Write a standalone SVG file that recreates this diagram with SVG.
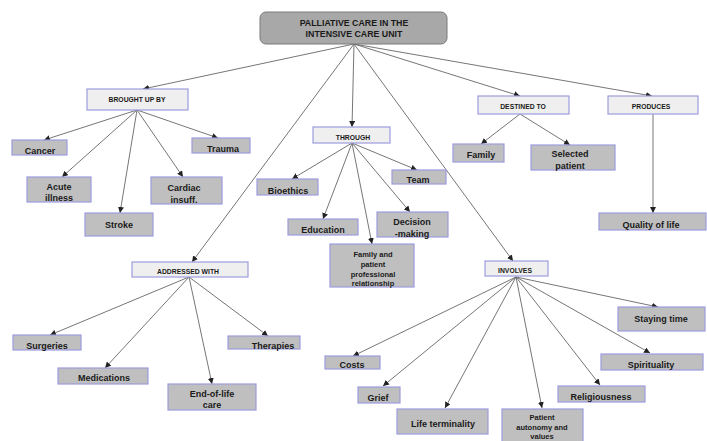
<svg xmlns="http://www.w3.org/2000/svg" width="707" height="441" viewBox="0 0 707 441">
<defs>
<marker id="ah" viewBox="0 0 10 10" refX="10" refY="5" markerWidth="6" markerHeight="6" markerUnits="userSpaceOnUse" orient="auto">
<path d="M0,0 L10,5 L0,10 z" fill="#222"/>
</marker>
<style>
.e{stroke:#666;stroke-width:0.9;fill:none;marker-end:url(#ah)}
.rel{fill:#efefef;stroke:#9c9ce0;stroke-width:1.2}
.leaf{fill:#bfbfbf;stroke:#9c9ce0;stroke-width:1.2}
.title{fill:#a8a8a8;stroke:#7a7a7a;stroke-width:1}
text{font-family:"Liberation Sans",Arial,sans-serif;font-weight:bold;fill:#1a1a1a;text-anchor:middle}
.t{font-size:8.8px}
.r{font-size:6.8px}
.l{font-size:9px}
.s{font-size:7.5px}
</style>
</defs>
<rect width="707" height="441" fill="#ffffff"/>
<g id="connectors">
<line class="e" x1="354" y1="44" x2="143" y2="89"/>
<line class="e" x1="354" y1="44" x2="192" y2="262"/>
<line class="e" x1="354" y1="44" x2="352" y2="127"/>
<line class="e" x1="354" y1="44" x2="513" y2="261"/>
<line class="e" x1="354" y1="44" x2="520" y2="96"/>
<line class="e" x1="354" y1="44" x2="652" y2="96"/>
<line class="e" x1="137" y1="110" x2="44" y2="140"/>
<line class="e" x1="137" y1="110" x2="62" y2="177"/>
<line class="e" x1="137" y1="110" x2="120" y2="213"/>
<line class="e" x1="137" y1="110" x2="183" y2="177"/>
<line class="e" x1="137" y1="110" x2="218" y2="138"/>
<line class="e" x1="352" y1="143" x2="292" y2="179"/>
<line class="e" x1="352" y1="143" x2="323" y2="219"/>
<line class="e" x1="352" y1="143" x2="372" y2="244"/>
<line class="e" x1="352" y1="143" x2="410" y2="212"/>
<line class="e" x1="352" y1="143" x2="417" y2="170"/>
<line class="e" x1="520" y1="114" x2="481" y2="144"/>
<line class="e" x1="520" y1="114" x2="570" y2="145"/>
<line class="e" x1="653" y1="114" x2="653" y2="213"/>
<line class="e" x1="189" y1="277" x2="50" y2="335"/>
<line class="e" x1="189" y1="277" x2="105" y2="368"/>
<line class="e" x1="189" y1="277" x2="212" y2="384"/>
<line class="e" x1="189" y1="277" x2="268" y2="336"/>
<line class="e" x1="516" y1="277" x2="353" y2="356"/>
<line class="e" x1="516" y1="277" x2="383" y2="386"/>
<line class="e" x1="516" y1="277" x2="445" y2="408"/>
<line class="e" x1="516" y1="277" x2="542" y2="408"/>
<line class="e" x1="516" y1="277" x2="600" y2="385"/>
<line class="e" x1="516" y1="277" x2="650" y2="353"/>
<line class="e" x1="516" y1="277" x2="658" y2="307"/>
</g>
<g id="title">
<rect class="title" x="260" y="12" width="187" height="32" rx="6"/>
<text class="t" x="354" y="26">PALLIATIVE CARE IN THE</text>
<text class="t" x="354" y="37">INTENSIVE CARE UNIT</text>
</g>
<g id="brought-up-by"><rect class="rel" x="87" y="89" width="101" height="21"/><text class="r" x="137" y="102">BROUGHT UP BY</text></g>
<g id="cancer"><rect class="leaf" x="12" y="140" width="55" height="15"/><text class="l" x="40" y="154">Cancer</text></g>
<g id="trauma"><rect class="leaf" x="192" y="138" width="58" height="15"/><text class="l" x="223" y="152">Trauma</text></g>
<g id="acute"><rect class="leaf" x="27" y="177" width="64" height="25"/><text class="l" x="59" y="190">Acute</text><text class="l" x="59" y="201">illness</text></g>
<g id="cardiac"><rect class="leaf" x="151" y="177" width="71" height="27"/><text class="l" x="184" y="191">Cardiac</text><text class="l" x="184" y="203">insuff.</text></g>
<g id="stroke"><rect class="leaf" x="85" y="213" width="68" height="23"/><text class="l" x="119" y="228">Stroke</text></g>
<g id="through"><rect class="rel" x="313" y="127" width="77" height="16"/><text class="r" x="353" y="140">THROUGH</text></g>
<g id="bioethics"><rect class="leaf" x="257" y="179" width="61" height="16"/><text class="l" x="288" y="194">Bioethics</text></g>
<g id="team"><rect class="leaf" x="392" y="170" width="54" height="14"/><text class="l" x="418" y="183">Team</text></g>
<g id="education"><rect class="leaf" x="288" y="219" width="70" height="16"/><text class="l" x="323" y="233">Education</text></g>
<g id="decision"><rect class="leaf" x="377" y="212" width="71" height="25"/><text class="l" x="412" y="225">Decision</text><text class="l" x="412" y="237">-making</text></g>
<g id="family-rel"><rect class="leaf" x="330" y="244" width="84" height="43"/><text class="s" x="373" y="257">Family and</text><text class="s" x="373" y="267">patient</text><text class="s" x="373" y="277">professional</text><text class="s" x="373" y="286">relationship</text></g>
<g id="destined-to"><rect class="rel" x="478" y="96" width="91" height="18"/><text class="r" x="523" y="109">DESTINED TO</text></g>
<g id="produces"><rect class="rel" x="608" y="96" width="90" height="18"/><text class="r" x="651" y="109">PRODUCES</text></g>
<g id="family"><rect class="leaf" x="453" y="144" width="51" height="18"/><text class="l" x="481" y="158">Family</text></g>
<g id="selected"><rect class="leaf" x="531" y="145" width="84" height="25"/><text class="l" x="570" y="157">Selected</text><text class="l" x="570" y="169">patient</text></g>
<g id="quality"><rect class="leaf" x="599" y="213" width="107" height="17"/><text class="l" x="651" y="228">Quality of life</text></g>
<g id="addressed-with"><rect class="rel" x="132" y="262" width="116" height="15"/><text class="r" x="188" y="274">ADDRESSED WITH</text></g>
<g id="surgeries"><rect class="leaf" x="13" y="335" width="68" height="15"/><text class="l" x="47" y="349">Surgeries</text></g>
<g id="therapies"><rect class="leaf" x="228" y="336" width="72" height="13"/><text class="l" x="273" y="349">Therapies</text></g>
<g id="medications"><rect class="leaf" x="58" y="368" width="90" height="16"/><text class="l" x="104" y="381">Medications</text></g>
<g id="end-of-life"><rect class="leaf" x="168" y="384" width="88" height="26"/><text class="l" x="212" y="397">End-of-life</text><text class="l" x="212" y="408">care</text></g>
<g id="involves"><rect class="rel" x="485" y="261" width="63" height="15"/><text class="r" x="515" y="273">INVOLVES</text></g>
<g id="staying"><rect class="leaf" x="618" y="307" width="87" height="24"/><text class="l" x="661" y="322">Staying time</text></g>
<g id="costs"><rect class="leaf" x="325" y="356" width="55" height="13"/><text class="l" x="352" y="368">Costs</text></g>
<g id="spirituality"><rect class="leaf" x="601" y="354" width="102" height="16"/><text class="l" x="651" y="368">Spirituality</text></g>
<g id="grief"><rect class="leaf" x="358" y="387" width="42" height="16"/><text class="l" x="378" y="401">Grief</text></g>
<g id="religiousness"><rect class="leaf" x="558" y="386" width="87" height="16"/><text class="l" x="601" y="400">Religiousness</text></g>
<g id="life-terminality"><rect class="leaf" x="397" y="409" width="91" height="25"/><text class="l" x="443" y="427">Life terminality</text></g>
<g id="patient-autonomy"><rect class="leaf" x="502" y="409" width="81" height="34"/><text class="s" x="542" y="420">Patient</text><text class="s" x="542" y="429.5">autonomy and</text><text class="s" x="542" y="439">values</text></g>
</svg>
